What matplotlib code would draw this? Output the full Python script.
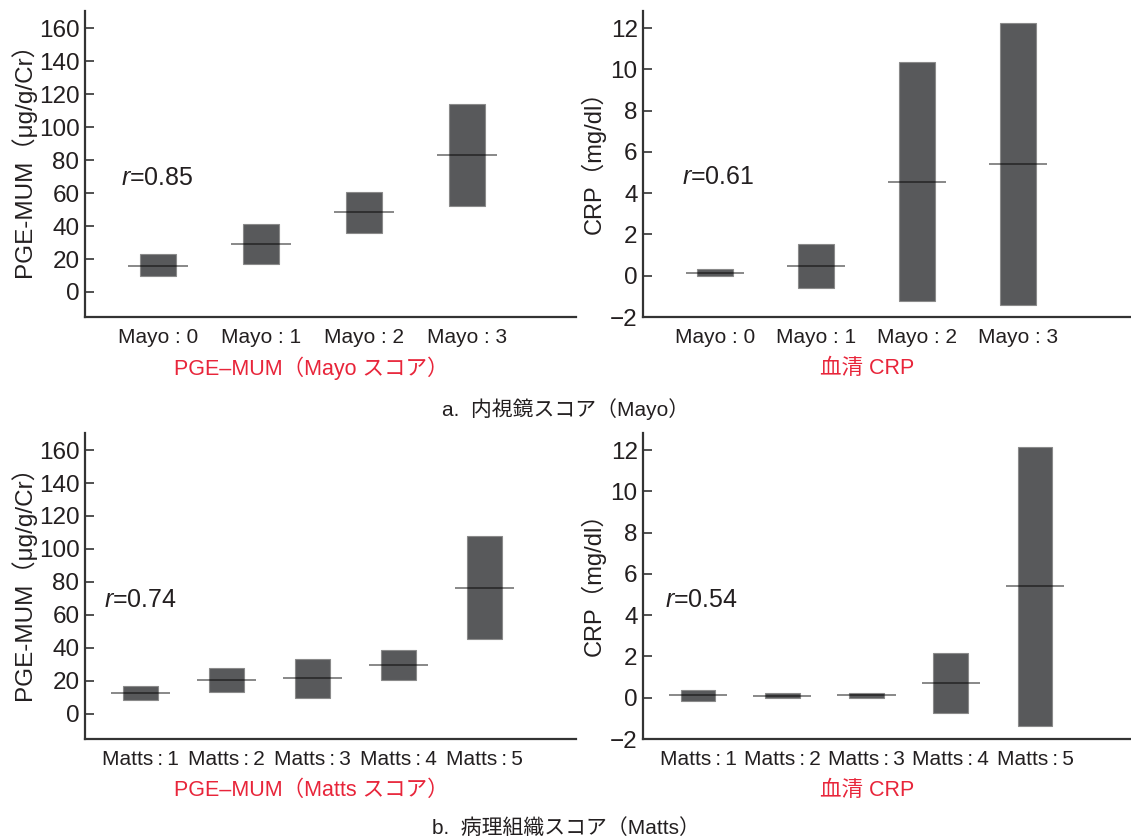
import matplotlib
matplotlib.use("Agg")
import matplotlib.pyplot as plt

plt.rcParams['font.family'] = ['Liberation Sans', 'Noto Sans CJK JP', 'DejaVu Sans']
plt.rcParams['mathtext.fontset'] = 'custom'
plt.rcParams['mathtext.it'] = 'Liberation Sans:italic'
plt.rcParams['mathtext.rm'] = 'Liberation Sans'

# ---- data ----
mayo_labels = ["Mayo : 0", "Mayo : 1", "Mayo : 2", "Mayo : 3"]
matts_labels = ["Matts\u2009:\u20091", "Matts\u2009:\u20092", "Matts\u2009:\u20093",
                "Matts\u2009:\u20094", "Matts\u2009:\u20095"]

pge_mayo_low = [9.5, 17.2, 35.8, 52.4]
pge_mayo_high = [22.9, 41.0, 60.5, 113.9]
pge_mayo_median = [16.0, 29.3, 48.4, 83.1]

crp_mayo_low = [-0.02, -0.61, -1.24, -1.44]
crp_mayo_high = [0.32, 1.55, 10.37, 12.26]
crp_mayo_median = [0.15, 0.47, 4.55, 5.41]

pge_matts_low = [8.3, 13.1, 9.5, 20.6, 45.5]
pge_matts_high = [17.2, 27.7, 33.5, 38.8, 107.7]
pge_matts_median = [12.7, 20.4, 21.6, 29.7, 76.6]

crp_matts_low = [-0.15, -0.02, -0.02, -0.73, -1.37]
crp_matts_high = [0.35, 0.23, 0.21, 2.16, 12.13]
crp_matts_median = [0.11, 0.10, 0.11, 0.71, 5.39]

r_values = ["0.85", "0.61", "0.74", "0.54"]

pge_ticks = [0, 20, 40, 60, 80, 100, 120, 140, 160]
crp_ticks = [-2, 0, 2, 4, 6, 8, 10, 12]

RED = "#e8253a"
BOX = "#58595b"
TXT = "#231f20"

fig = plt.figure(figsize=(11.31, 8.38), dpi=100)
W, H = 1131, 838


def add_axes(left, right, top, bottom):
    return fig.add_axes([left / W, 1 - bottom / H, (right - left) / W, (bottom - top) / H])


def draw_panel(ax, labels, low, high, med, ticks, ylim, xlim, box_w, line_w,
               ylabel, r_text, r_pos, labelpad, ylabel_size, ylabel_y):
    x = list(range(len(labels)))
    heights = [h - l for h, l in zip(high, low)]
    ax.bar(x, heights, bottom=low, width=box_w, color=BOX,
           edgecolor="#8a8a8a", linewidth=0.8, zorder=2)
    for xi, m in zip(x, med):
        ax.plot([xi - line_w / 2, xi + line_w / 2], [m, m], color="black",
                alpha=0.5, linewidth=1.3, zorder=3, solid_capstyle="butt")
    ax.set_xlim(*xlim)
    ax.set_ylim(*ylim)
    ax.set_yticks(ticks)
    ax.set_yticklabels([str(t).replace("-", "\u2212") for t in ticks])
    ax.set_xticks(x)
    ax.set_xticklabels(labels, fontsize=15, color=TXT)
    ax.tick_params(axis="x", length=0, pad=8)
    ax.tick_params(axis="y", direction="in", length=6.5, width=1.2,
                   labelsize=17.5, labelcolor=TXT, color="#333333", pad=4)
    for s in ("top", "right"):
        ax.spines[s].set_visible(False)
    for s in ("left", "bottom"):
        ax.spines[s].set_linewidth(1.6)
        ax.spines[s].set_color("#333333")
    ax.set_ylabel(ylabel, fontsize=ylabel_size, color=TXT, labelpad=labelpad)
    ax.yaxis.label.set_y(ylabel_y)
    ax.text(r_pos[0], r_pos[1], r"$\it{r}$=" + r_text, fontsize=18,
            color=TXT, ha="left", va="center")


pge_label = "PGE-MUM（μg/g/Cr）"
crp_label = "CRP（mg/dl）"

ax1 = add_axes(85, 576, 10.7, 317)
draw_panel(ax1, mayo_labels, pge_mayo_low, pge_mayo_high, pge_mayo_median,
           pge_ticks, (-15.2, 170.7), (-0.71, 4.06), 0.35, 0.58,
           pge_label, r_values[0], (-0.36, 69), 2, 17.5, 0.533)

ax2 = add_axes(643.3, 1131, 10.7, 317)
draw_panel(ax2, mayo_labels, crp_mayo_low, crp_mayo_high, crp_mayo_median,
           crp_ticks, (-2.0, 12.85), (-0.71, 4.12), 0.35, 0.58,
           crp_label, r_values[1], (-0.33, 4.8), 3, 17, 0.523)

ax3 = add_axes(85, 576, 432.7, 739)
draw_panel(ax3, matts_labels, pge_matts_low, pge_matts_high, pge_matts_median,
           pge_ticks, (-15.2, 170.5), (-0.65, 5.07), 0.41, 0.69,
           pge_label, r_values[2], (-0.43, 69), 2, 17.5, 0.53)

ax4 = add_axes(643.3, 1131, 432.7, 739)
draw_panel(ax4, matts_labels, crp_matts_low, crp_matts_high, crp_matts_median,
           crp_ticks, (-1.98, 12.84), (-0.65, 5.14), 0.41, 0.69,
           crp_label, r_values[3], (-0.39, 4.74), 3, 17, 0.523)

# red sub-axis captions
fig.text(311 / W, 1 - 368 / H, "PGE\u2013MUM（Mayo スコア）", color=RED,
         fontsize=15.5, ha="center", va="center")
fig.text(867 / W, 1 - 368 / H, "血清 CRP", color=RED,
         fontsize=15.5, ha="center", va="center")
fig.text(311 / W, 1 - 790 / H, "PGE\u2013MUM（Matts スコア）", color=RED,
         fontsize=15.5, ha="center", va="center")
fig.text(867 / W, 1 - 790 / H, "血清 CRP", color=RED,
         fontsize=15.5, ha="center", va="center")

# panel captions
fig.text(566 / W, 1 - 409 / H, "a.  内視鏡スコア（Mayo）", color=TXT,
         fontsize=15, ha="center", va="center")
fig.text(566 / W, 1 - 828 / H, "b.  病理組織スコア（Matts）", color=TXT,
         fontsize=15, ha="center", va="center")

fig.savefig("out.png", dpi=100)
